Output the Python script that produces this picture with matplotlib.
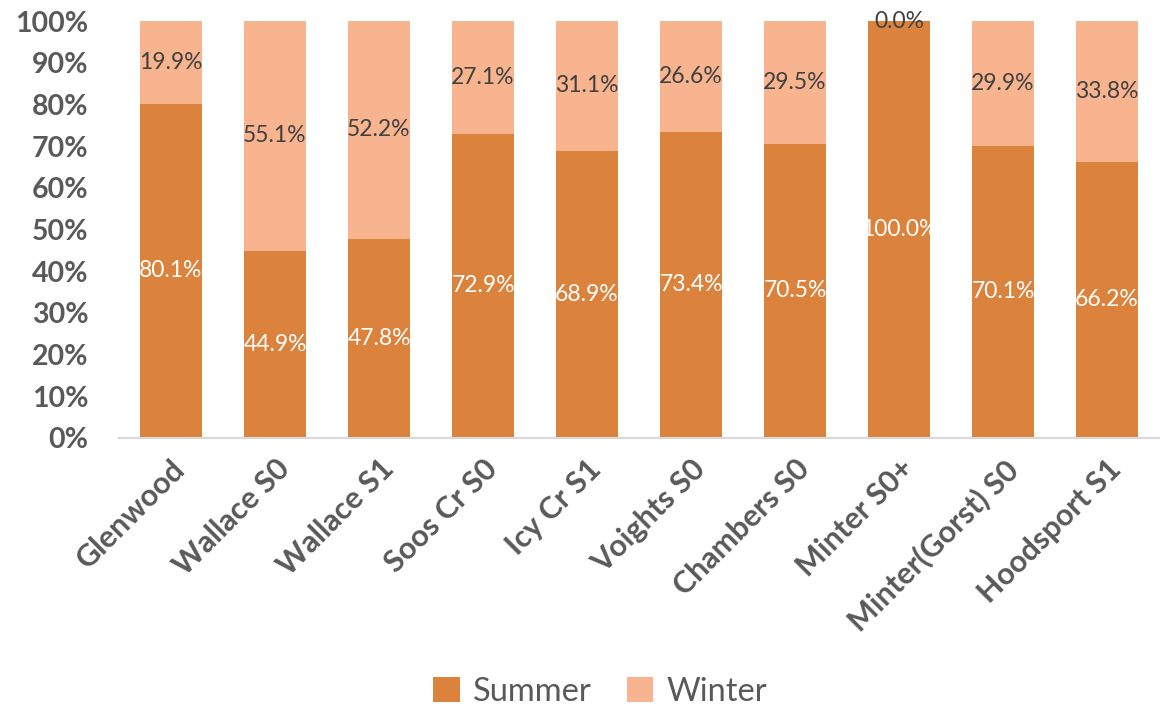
import matplotlib
matplotlib.use("Agg")
import matplotlib.pyplot as plt
import numpy as np
from matplotlib.ticker import FuncFormatter

categories = ["Glenwood", "Wallace S0", "Wallace S1", "Soos Cr S0", "Icy Cr S1",
              "Voights S0", "Chambers S0", "Minter S0+", "Minter(Gorst) S0", "Hoodsport S1"]
summer = [80.1, 44.9, 47.8, 72.9, 68.9, 73.4, 70.5, 100.0, 70.1, 66.2]
winter = [19.9, 55.1, 52.2, 27.1, 31.1, 26.6, 29.5, 0.0, 29.9, 33.8]

c_summer = "#DB833D"
c_winter = "#F8B48F"
gray = "#595959"

plt.rcParams['font.family'] = ['Lato', 'DejaVu Sans']

fig = plt.figure(figsize=(11.7, 7.05), dpi=100)
ax = fig.add_axes([0.1017, 0.379, 0.889, 0.591])

x = np.arange(len(categories))
w = 0.595
b1 = ax.bar(x, summer, w, color=c_summer, label="Summer")
b2 = ax.bar(x, winter, w, bottom=summer, color=c_winter, label="Winter")

for i in range(len(categories)):
    ax.text(x[i], summer[i] / 2, f"{summer[i]:.1f}%", ha="center", va="center",
            color="white", fontsize=16.5)
    ax.text(x[i], summer[i] + winter[i] / 2, f"{winter[i]:.1f}%", ha="center", va="center",
            color="#404040", fontsize=16.5)

ax.set_xlim(-0.5, len(categories) - 0.5)
ax.set_ylim(0, 100)
ax.set_yticks(np.arange(0, 101, 10))
ax.yaxis.set_major_formatter(FuncFormatter(lambda v, p: f"{int(v)}%"))
ax.set_xticks(x)
ax.set_xticklabels(categories, rotation=45, ha="right", rotation_mode="anchor")
for lab in ax.get_yticklabels():
    lab.set_fontweight("bold")
    lab.set_color(gray)
    lab.set_fontsize(20.5)
for lab in ax.get_xticklabels():
    lab.set_fontweight("bold")
    lab.set_color(gray)
    lab.set_fontsize(22)
ax.tick_params(axis="both", length=0)
ax.tick_params(axis="y", pad=22)
ax.tick_params(axis="x", pad=12)
for s in ["top", "right", "left"]:
    ax.spines[s].set_visible(False)
ax.spines["bottom"].set_color("#D9D9D9")
ax.spines["bottom"].set_linewidth(1.5)

leg = fig.legend(handles=[b1, b2], labels=["Summer", "Winter"], loc="center",
                 bbox_to_anchor=(0.513, 0.019), ncol=2, frameon=False,
                 fontsize=23.5, handlelength=0.8, handleheight=0.8,
                 columnspacing=1.1, handletextpad=0.4)
for t in leg.get_texts():
    t.set_color(gray)

fig.savefig("out.png", dpi=100)
